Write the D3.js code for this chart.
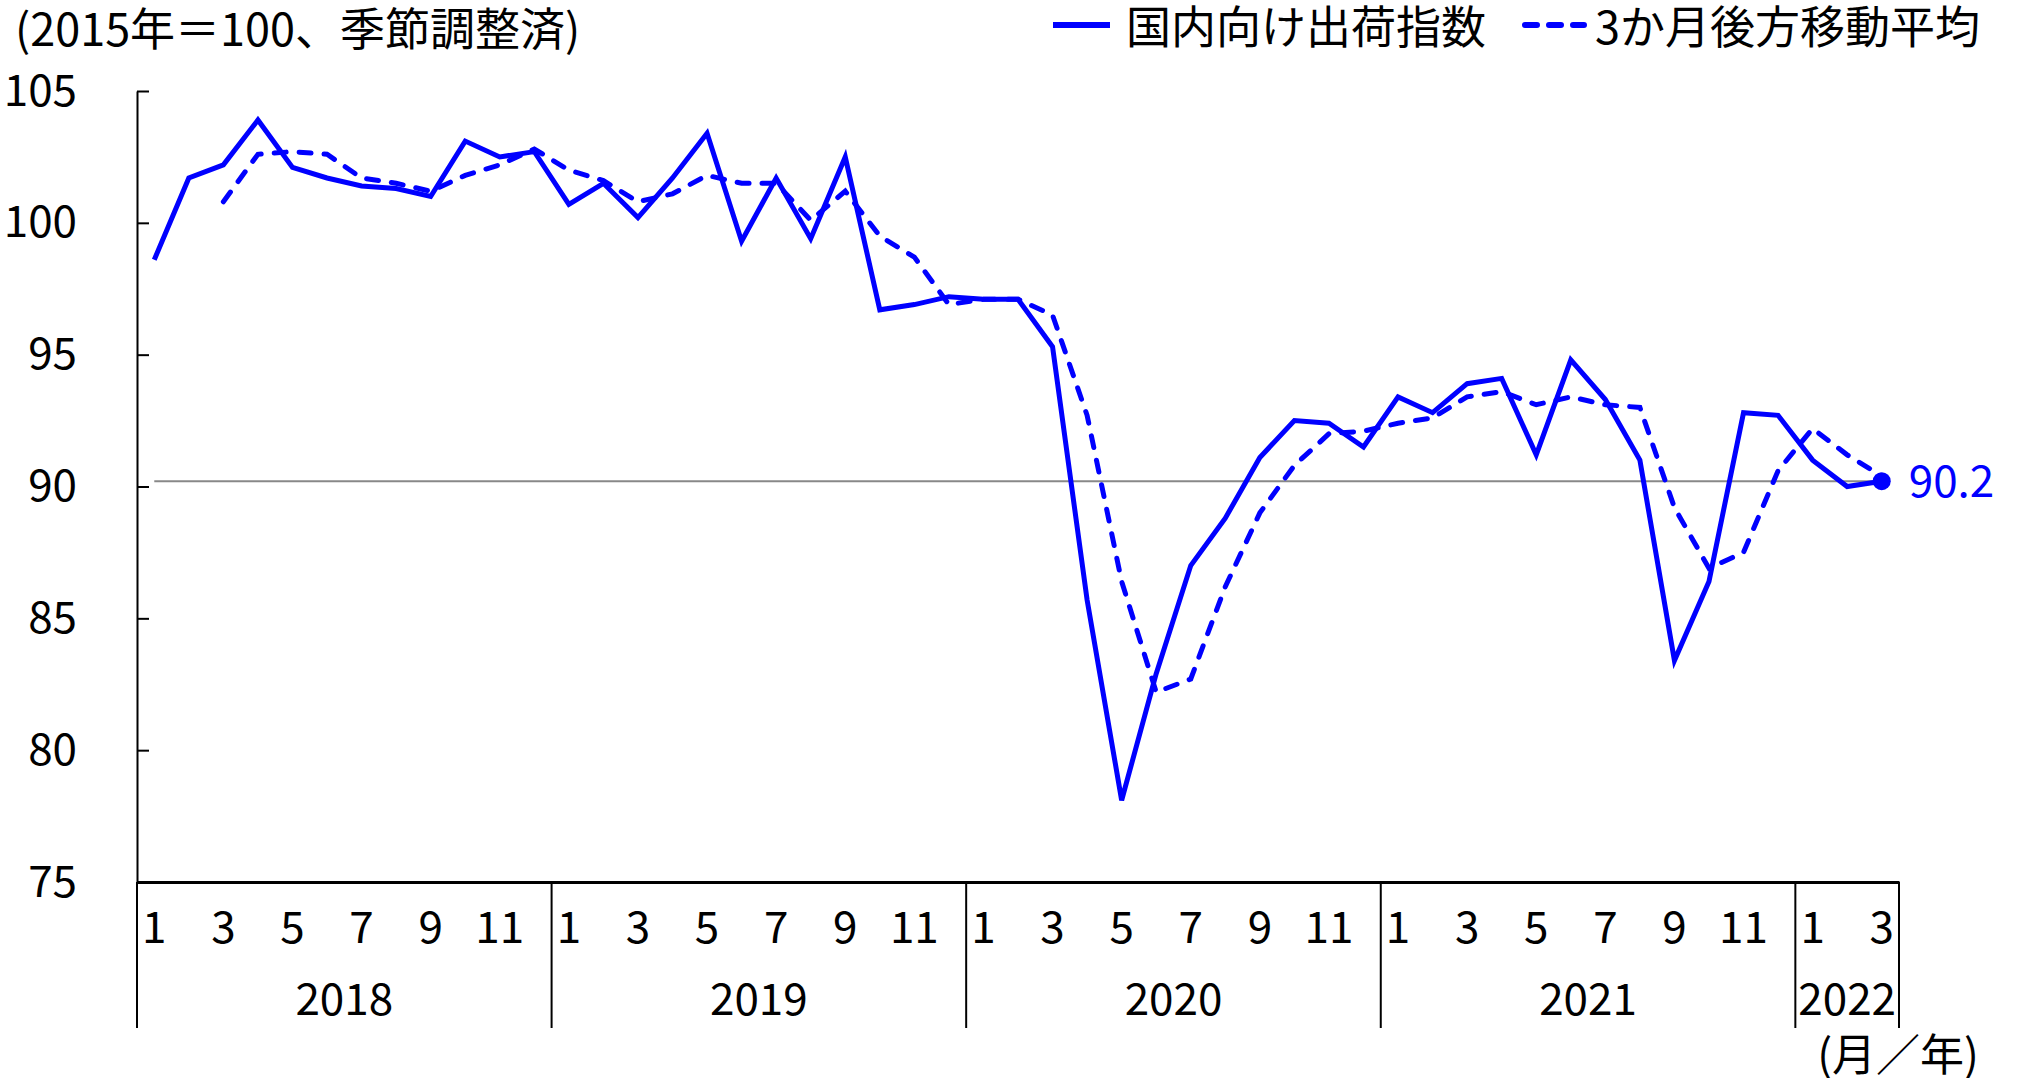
<!DOCTYPE html>
<html>
<head>
<meta charset="utf-8">
<script src="https://cdnjs.cloudflare.com/ajax/libs/d3/7.8.5/d3.min.js"></script>
<style>
body{margin:0;background:#fff;}
svg text{font-family:"Noto Sans CJK JP",sans-serif;fill:#000;}
</style>
</head>
<body>
<div id="chart"></div>
<script>
// categories
var years = [2018, 2019, 2020, 2021, 2022];
var monthsInYear = [12, 12, 12, 12, 3];
var monthTicks = [1, 3, 5, 7, 9, 11];
var yTicks = [75, 80, 85, 90, 95, 100, 105];

// 国内向け出荷指数 (2018/1 - 2022/3)
var shipments = [
	98.6, 101.7, 102.2, 103.9, 102.1, 101.7, 101.4, 101.3, 101.0, 103.1, 102.5, 102.7,
	100.7, 101.5, 100.2, 101.7, 103.4, 99.3, 101.7, 99.4, 102.5, 96.7, 96.9, 97.2,
	97.1, 97.1, 95.3, 85.7, 78.1, 82.9, 87.0, 88.8, 91.1, 92.5, 92.4, 91.5,
	93.4, 92.8, 93.9, 94.1, 91.2, 94.8, 93.3, 91.0, 83.4, 86.4, 92.8, 92.7,
	91.0, 90.0, 90.2
];
// 3か月後方移動平均
var movingAvg = [
	null, null, 100.8, 102.6, 102.7, 102.6, 101.7, 101.5, 101.2, 101.8, 102.2, 102.8,
	102.0, 101.6, 100.8, 101.1, 101.8, 101.5, 101.5, 100.1, 101.2, 99.5, 98.7, 96.9,
	97.1, 97.1, 96.5, 92.7, 86.4, 82.2, 82.7, 86.2, 89.0, 90.8, 92.0, 92.1,
	92.4, 92.6, 93.4, 93.6, 93.1, 93.4, 93.1, 93.0, 89.2, 86.9, 87.5, 90.6,
	92.2, 91.2, 90.4
];
var lastValue = 90.2;
var lastLabel = "90.2";

var titleText = "(2015年＝100、季節調整済)";
var unitText = "(月／年)";
var legendLabels = ["国内向け出荷指数", "3か月後方移動平均"];

(function(){

	var width = 2022;
	var height = 1078;
	var blue = "#0000ff";
	var fs = 44;

	var svg = d3.select("div#chart")
	.append("svg")
	.attr("width", width)
	.attr("height", height)

	var months = [];
	years.forEach(function(yr, i){
		for(var m = 1; m <= monthsInYear[i]; m++){
			months.push({year: yr, month: m, key: yr + "-" + m});
		}
	})

	var x = d3.scaleBand().domain(months.map(function(d){ return d.key })).range([137, 1899]);
	var y = d3.scaleLinear().domain([75, 105]).range([882, 91]);
	function cx(i){
		return x(months[i].key) + x.bandwidth() / 2;
	}

	// title
	svg.append("text")
		.attr("x", 15)
		.attr("y", 30)
		.attr("dy", "0.35em")
		.attr("font-size", 45)
		.text(titleText)

	// y axis
	var yAxis = svg.append("g")
		.attr("transform", "translate(137,0)")
		.call(d3.axisLeft(y).tickValues(yTicks).tickSize(-12).tickSizeOuter(0).tickPadding(60))
	yAxis.attr("font-family", null)
	yAxis.selectAll("text").attr("font-size", fs).style("fill", "#000")
	yAxis.selectAll("line, path").attr("stroke", "#000").attr("stroke-width", 2)

	// reference line at latest value
	svg.append("line")
		.attr("x1", cx(0))
		.attr("x2", cx(months.length - 1))
		.attr("y1", y(lastValue))
		.attr("y2", y(lastValue))
		.attr("stroke", "#888")
		.attr("stroke-width", 2)

	// x axis: months
	var monthKeys = months.filter(function(d){ return monthTicks.indexOf(d.month) >= 0 }).map(function(d){ return d.key });
	var xAxis = svg.append("g")
		.attr("transform", "translate(0,882)")
		.call(d3.axisBottom(x).tickValues(monthKeys).tickSize(0).tickSizeOuter(0)
			.tickFormat(function(k){ return k.split("-")[1] }))
	xAxis.attr("font-family", null)
	xAxis.selectAll("text").attr("font-size", fs).attr("y", 46).attr("dy", "0.35em").style("fill", "#000")
	xAxis.select("path.domain").attr("stroke", "#000").attr("stroke-width", 3)

	// year separators and labels
	var yearSpans = years.map(function(yr, i){
		var first = months.filter(function(d){ return d.year == yr })[0];
		var x0 = x(first.key);
		return {year: yr, x0: x0, x1: x0 + x.bandwidth() * monthsInYear[i]};
	})
	var edges = [yearSpans[0].x0].concat(yearSpans.map(function(d){ return d.x1 }));
	svg.selectAll(".sep")
		.data(edges)
		.enter().append("line")
		.attr("class", "sep")
		.attr("x1", function(d){ return d })
		.attr("x2", function(d){ return d })
		.attr("y1", 882)
		.attr("y2", 1028)
		.attr("stroke", "#000")
		.attr("stroke-width", 2)
	svg.selectAll(".yr")
		.data(yearSpans)
		.enter().append("text")
		.attr("class", "yr")
		.attr("x", function(d){ return (d.x0 + d.x1) / 2 })
		.attr("y", 1000)
		.attr("dy", "0.35em")
		.attr("text-anchor", "middle")
		.attr("font-size", fs)
		.text(function(d){ return d.year })

	svg.append("text")
		.attr("x", 1979)
		.attr("y", 1056)
		.attr("dy", "0.35em")
		.attr("text-anchor", "end")
		.attr("font-size", fs)
		.text(unitText)

	// lines
	var line = d3.line()
		.defined(function(d){ return d != null })
		.x(function(d, i){ return cx(i) })
		.y(function(d){ return y(d) })

	svg.append("path")
		.attr("d", line(movingAvg))
		.attr("fill", "none")
		.attr("stroke", blue)
		.attr("stroke-width", 5)
		.attr("stroke-dasharray", "12,13")
		.attr("stroke-linecap", "round")

	svg.append("path")
		.attr("d", line(shipments))
		.attr("fill", "none")
		.attr("stroke", blue)
		.attr("stroke-width", 5)
		.attr("stroke-linejoin", "miter")

	var li = shipments.length - 1;
	svg.append("circle")
		.attr("cx", cx(li))
		.attr("cy", y(shipments[li]))
		.attr("r", 9)
		.attr("fill", blue)
	svg.append("text")
		.attr("x", cx(li) + 27)
		.attr("y", y(shipments[li]))
		.attr("dy", "0.35em")
		.attr("font-size", fs)
		.style("fill", blue)
		.text(lastLabel)

	// legend
	var legend = svg.append("g")
	legend.append("line")
		.attr("x1", 1053).attr("x2", 1110).attr("y1", 25).attr("y2", 25)
		.attr("stroke", blue).attr("stroke-width", 6)
	legend.append("text")
		.attr("x", 1126).attr("y", 28).attr("dy", "0.35em")
		.attr("font-size", 45)
		.text(legendLabels[0])
	legend.append("line")
		.attr("x1", 1525).attr("x2", 1584).attr("y1", 25).attr("y2", 25)
		.attr("stroke", blue).attr("stroke-width", 6)
		.attr("stroke-dasharray", "12,12")
		.attr("stroke-linecap", "round")
	legend.append("text")
		.attr("x", 1595).attr("y", 28).attr("dy", "0.35em")
		.attr("font-size", 45)
		.text(legendLabels[1])

})();
</script>
</body>
</html>
